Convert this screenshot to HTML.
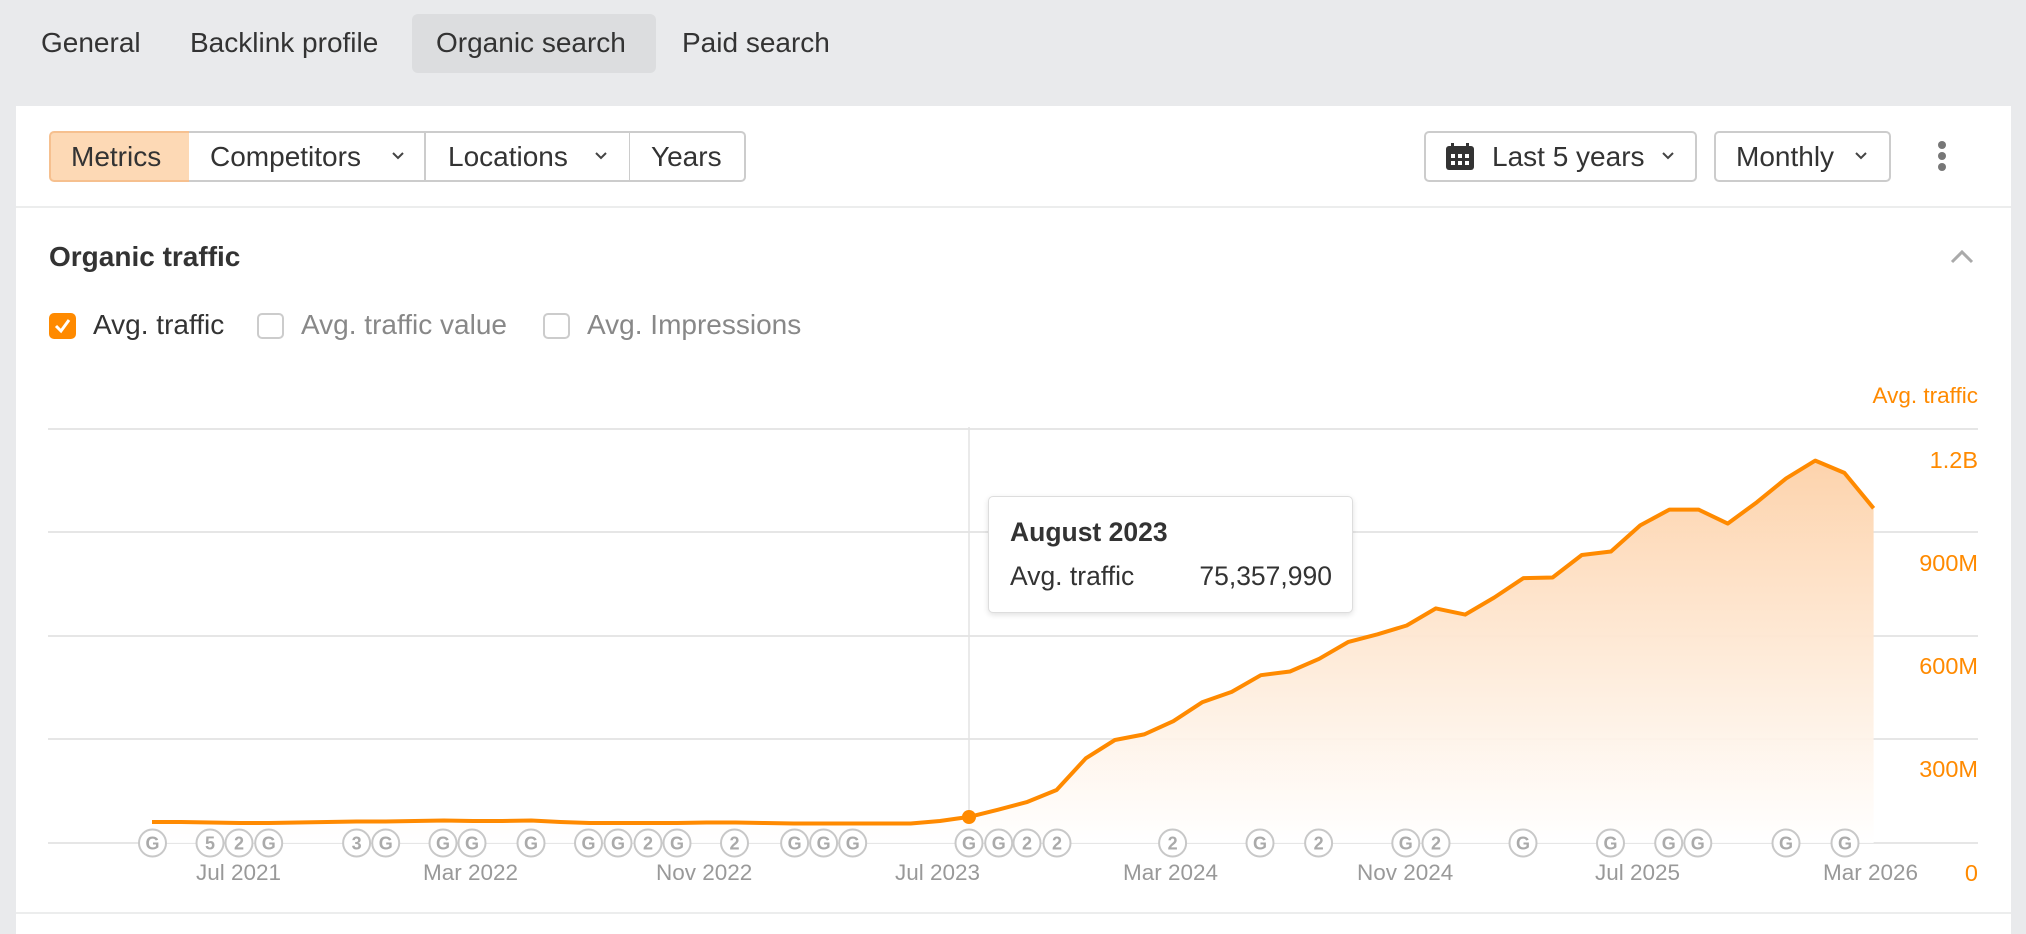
<!DOCTYPE html>
<html><head><meta charset="utf-8"><style>
*{margin:0;padding:0;box-sizing:border-box}
body{width:2026px;height:934px;background:#e9eaec;font-family:"Liberation Sans",sans-serif;position:relative;overflow:hidden;color:#333}
.a{position:absolute;white-space:nowrap}
.tab{font-size:28px;color:#333;top:27px}
.card{position:absolute;left:16px;top:106px;width:1995px;height:828px;background:#fff}
.btn{position:absolute;top:131px;height:51px;border:2px solid #ccc;font-size:28px;line-height:47px;color:#333;background:#fff}
.cb{position:absolute;top:313px;width:27px;height:26px;border:2px solid #ccc;border-radius:5px;background:#fff}
.lbl{font-size:28px;top:309px}
.yl{font-size:23.5px;color:#ff8a00;text-align:right;right:48px}
.xl{font-size:22.5px;color:#999}
.chev{position:absolute;top:150px}
</style></head><body>
<div class="a" style="left:412px;top:14px;width:244px;height:59px;background:#dcdddf;border-radius:6px"></div>
<div class="a tab" style="left:41px">General</div>
<div class="a tab" style="left:190px">Backlink profile</div>
<div class="a tab" style="left:436px">Organic search</div>
<div class="a tab" style="left:682px">Paid search</div>
<div class="card"></div>
<div class="btn" style="left:49px;width:142px;background:#fdd9b5;border-color:#f6c08f;border-radius:5px 0 0 5px;padding-left:20px">Metrics</div>
<div class="btn" style="left:189px;width:237px;border-left:none;padding-left:21px">Competitors</div>
<div class="btn" style="left:424px;width:207px;padding-left:22px">Locations</div>
<div class="btn" style="left:630px;width:116px;border-left:none;border-radius:0 5px 5px 0;padding-left:21px">Years</div>
<div class="btn" style="left:1424px;width:273px;border-radius:5px;padding-left:66px">Last 5 years</div>
<div class="btn" style="left:1714px;width:177px;border-radius:5px;padding-left:20px">Monthly</div>
<svg class="chev" style="left:391px" width="14" height="12"><path d="M2 3 L7 8 L12 3" fill="none" stroke="#444" stroke-width="2"/></svg>
<svg class="chev" style="left:594px" width="14" height="12"><path d="M2 3 L7 8 L12 3" fill="none" stroke="#444" stroke-width="2"/></svg>
<svg class="chev" style="left:1661px" width="14" height="12"><path d="M2 3 L7 8 L12 3" fill="none" stroke="#444" stroke-width="2"/></svg>
<svg class="chev" style="left:1854px" width="14" height="12"><path d="M2 3 L7 8 L12 3" fill="none" stroke="#444" stroke-width="2"/></svg>
<svg class="a" style="left:1445px;top:142px" width="30" height="30" viewBox="0 0 30 30"><rect x="1" y="4" width="28" height="24" rx="3" fill="#333"/><rect x="6" y="1" width="3" height="6" fill="#333"/><rect x="21" y="1" width="3" height="6" fill="#333"/><g fill="#fff"><rect x="6" y="12" width="4" height="4"/><rect x="13" y="12" width="4" height="4"/><rect x="20" y="12" width="4" height="4"/><rect x="6" y="19" width="4" height="4"/><rect x="13" y="19" width="4" height="4"/><rect x="20" y="19" width="4" height="4"/></g></svg>
<svg class="a" style="left:1935px;top:140px" width="14" height="32"><circle cx="7" cy="5" r="4" fill="#777"/><circle cx="7" cy="16" r="4" fill="#777"/><circle cx="7" cy="27" r="4" fill="#777"/></svg>
<div class="a" style="left:16px;top:206px;width:1995px;height:2px;background:#eceded"></div>
<div class="a" style="left:49px;top:241px;font-size:28px;font-weight:bold;color:#333">Organic traffic</div>
<svg class="a" style="left:1949px;top:248px" width="26" height="18"><path d="M3 14 L13 4 L23 14" fill="none" stroke="#aaa" stroke-width="3"/></svg>
<div class="cb" style="left:49px;background:#ff8a00;border-color:#ff8a00"><svg width="23" height="22" style="position:absolute;left:0;top:0"><path d="M5 11 L10 16 L18 5" fill="none" stroke="#fff" stroke-width="3"/></svg></div>
<div class="a lbl" style="left:93px;color:#333">Avg. traffic</div>
<div class="cb" style="left:257px"></div>
<div class="a lbl" style="left:301px;color:#888">Avg. traffic value</div>
<div class="cb" style="left:543px"></div>
<div class="a lbl" style="left:587px;color:#888">Avg. Impressions</div>
<div class="a yl" style="top:383px;font-size:22.5px">Avg. traffic</div>
<div class="a yl" style="top:447px">1.2B</div>
<div class="a yl" style="top:550px">900M</div>
<div class="a yl" style="top:653px">600M</div>
<div class="a yl" style="top:756px">300M</div>
<div class="a yl" style="top:860px">0</div>
<svg class="a" style="left:0;top:0" width="2026" height="934">
<defs><linearGradient id="g" x1="0" y1="460" x2="0" y2="843" gradientUnits="userSpaceOnUse"><stop offset="0" stop-color="#fdd3ac"/><stop offset="1" stop-color="#fff" stop-opacity="0.9"/></linearGradient></defs>
<g stroke="#e6e6e6" stroke-width="2"><line x1="48" y1="429" x2="1978" y2="429"/><line x1="48" y1="532" x2="1978" y2="532"/><line x1="48" y1="636" x2="1978" y2="636"/><line x1="48" y1="739" x2="1978" y2="739"/><line x1="48" y1="843" x2="1978" y2="843"/></g>
<line x1="969" y1="427" x2="969" y2="843" stroke="#e3e3e3" stroke-width="1.5"/>
<path id="area" d="" fill="url(#g)"/>
<polyline id="ln" points="" fill="none" stroke="#ff8a00" stroke-width="4" stroke-linejoin="round"/>
<circle cx="969" cy="817" r="7" fill="#ff8a00"/>
<g id="mk" font-family="Liberation Sans,sans-serif" font-size="18" font-weight="bold" fill="#aaa" text-anchor="middle"></g>
<line x1="16" y1="913" x2="2011" y2="913" stroke="#eceded" stroke-width="2"/>
</svg>
<div class="a xl" style="left:196px;top:860px">Jul 2021</div>
<div class="a xl" style="left:423px;top:860px">Mar 2022</div>
<div class="a xl" style="left:656px;top:860px">Nov 2022</div>
<div class="a xl" style="left:895px;top:860px">Jul 2023</div>
<div class="a xl" style="left:1123px;top:860px">Mar 2024</div>
<div class="a xl" style="left:1357px;top:860px">Nov 2024</div>
<div class="a xl" style="left:1595px;top:860px">Jul 2025</div>
<div class="a xl" style="left:1823px;top:860px">Mar 2026</div>
<div class="a" style="left:988px;top:496px;width:365px;height:117px;background:#fff;border:1.5px solid #ddd;border-radius:5px;box-shadow:0 2px 6px rgba(0,0,0,0.12)"></div>
<div class="a" style="left:1010px;top:517px;font-size:26.5px;font-weight:bold;color:#333">August 2023</div>
<div class="a" style="left:1010px;top:561px;font-size:26.5px;color:#333">Avg. traffic</div>
<div class="a" style="left:1152px;top:561px;font-size:26.5px;color:#333;width:180px;text-align:right">75,357,990</div>
<script>
var ys=[813,813,813.5,814,814,813.5,813,812.5,812.5,812,811.5,812,812,811.5,813,814,814,814,814,813.5,813.5,814,814.5,814.5,814.5,814.5,814.5,812,808,801,793.3,781.7,750.7,732.7,727.3,714.3,695.7,685.7,669.3,665.7,653.3,636.7,629.3,620.7,604,610,593.3,574.3,573.7,551.7,548.3,522.7,507.3,507.3,521,500,476.7,459.3,471.3,506];
ys=ys.map(function(y){return (400+(y-400)*1.0218).toFixed(1)});
var pts=ys.map(function(y,i){return (152+i*29.18).toFixed(1)+","+y});
document.getElementById("ln").setAttribute("points",pts.join(" "));
document.getElementById("area").setAttribute("d","M"+pts.join(" L")+" L"+(152+59*29.18).toFixed(1)+",843 L152,843 Z");
var m=[[152.5,"G"],[210,"5"],[239,"2"],[268.7,"G"],[356.6,"3"],[385.7,"G"],[443,"G"],[472,"G"],[531,"G"],[588.5,"G"],[618,"G"],[648,"2"],[677,"G"],[734.5,"2"],[794.6,"G"],[823.6,"G"],[852.7,"G"],[969,"G"],[998.7,"G"],[1027,"2"],[1057,"2"],[1172.6,"2"],[1260,"G"],[1318.6,"2"],[1405.8,"G"],[1436,"2"],[1523,"G"],[1610.5,"G"],[1668.7,"G"],[1697.8,"G"],[1786,"G"],[1845,"G"]];
var h="";m.forEach(function(a){h+='<circle cx="'+a[0]+'" cy="843" r="13.5" fill="#fff" stroke="#c8c8c8" stroke-width="2"/><text x="'+a[0]+'" y="849.5">'+a[1]+'</text>';});
document.getElementById("mk").innerHTML=h;
</script>
</body></html>
